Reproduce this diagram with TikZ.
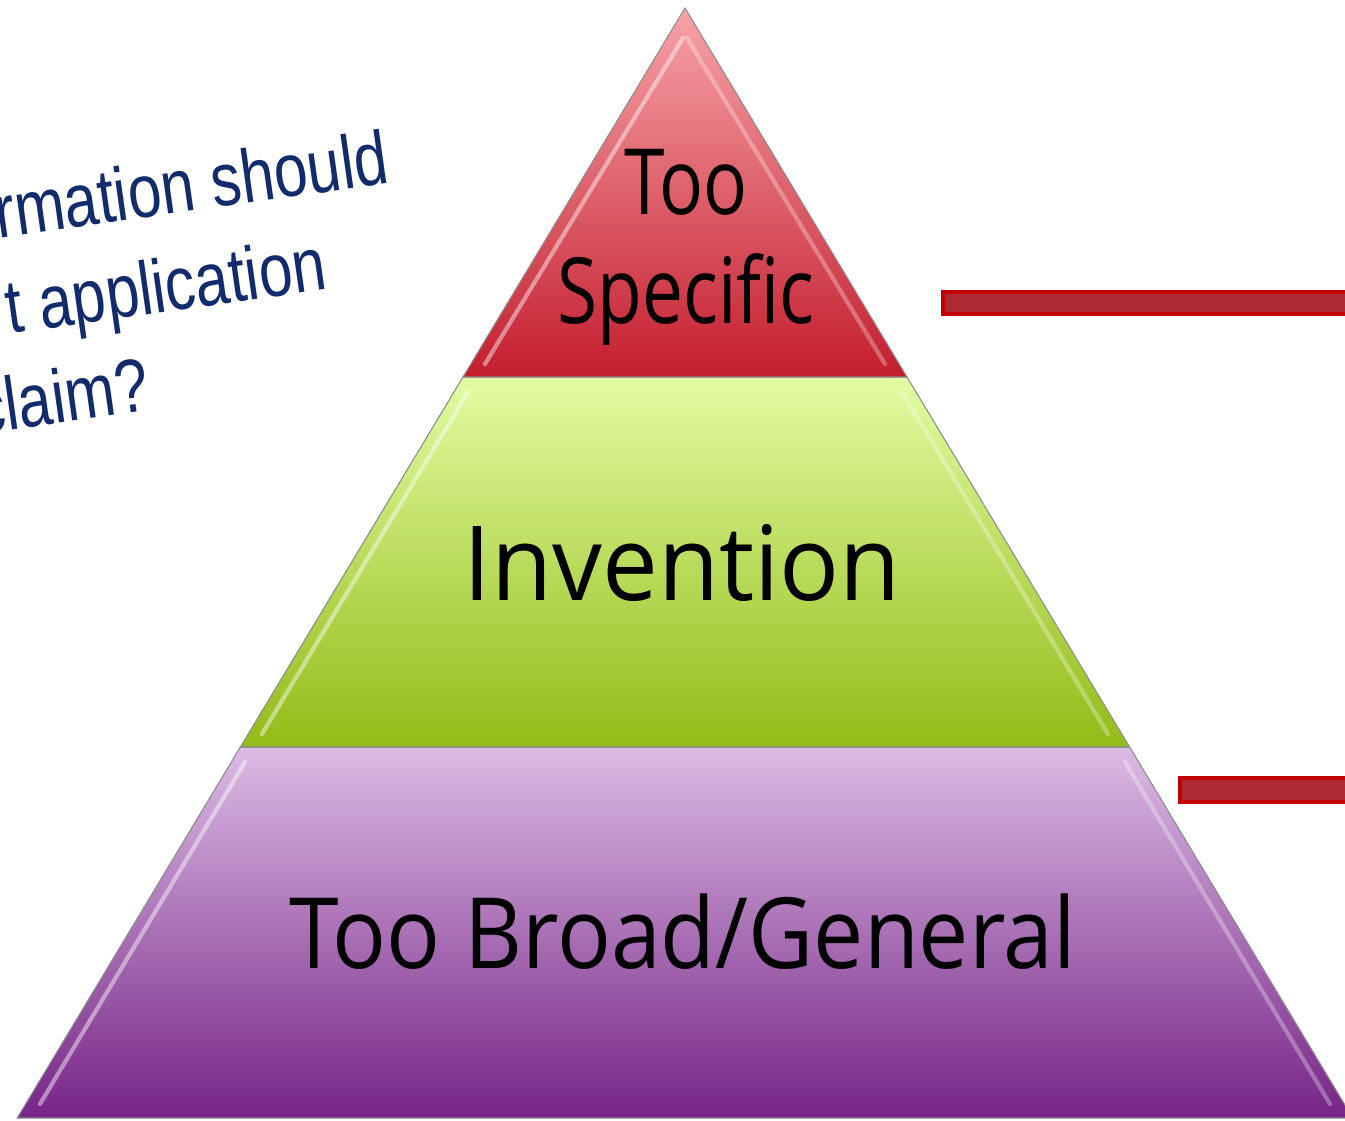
\documentclass[tikz,border=0pt]{standalone}
\usepackage{fontspec}
\setmainfont{Open Sans}
\newfontfamily\notefont{Liberation Sans}
\definecolor{redtop}{HTML}{F7A3A8}
\definecolor{redbot}{HTML}{C41E2E}
\definecolor{greentop}{HTML}{E2FCA2}
\definecolor{greenbot}{HTML}{92BC18}
\definecolor{purpletop}{HTML}{DBBBE4}
\definecolor{purplemid}{HTML}{B88FC6}
\definecolor{purplebot}{HTML}{772587}
\definecolor{barrim}{HTML}{C00000}
\definecolor{barfill}{HTML}{AF2934}
\definecolor{notecol}{HTML}{112B6C}
\tikzset{layer/.style={draw=black!45,line width=0.6pt}}
\tikzset{tier/.style={text=black,inner sep=0pt,align=center}}
\tikzset{shine/.style={draw=white,opacity=0.45,line width=2.4pt,line cap=round}}
\tikzset{bar/.style={draw=barrim,fill=barfill,line width=2.6pt}}
\tikzset{note/.style={font=\notefont\fontsize{43}{46}\selectfont,text=notecol,rotate=8,xscale=0.8,anchor=base east,inner sep=0pt}}

\begin{document}
\begin{tikzpicture}[x=0.02cm,y=-0.02cm]
  \useasboundingbox (0,0) rectangle (1345,1121);
  \fill[white] (0,0) rectangle (1345,1121);
  \node[note] (q1) at (391,183) {rmation should};
  \node[note] (q2) at (329,289) {t application};
  \node[note] (q3) at (152,410) {claim?};
  \shade[layer,top color=purpletop,middle color=purplemid,bottom color=purplebot] (240.4,747) -- (1129.6,747) -- (1352.8,1118) -- (17.2,1118) -- cycle;
  \shade[layer,top color=greentop,bottom color=greenbot] (463,377) -- (907,377) -- (1129.6,747) -- (240.4,747) -- cycle;
  \shade[layer,top color=redtop,bottom color=redbot] (685,8) -- (907,377) -- (463,377) -- cycle;
  \draw[shine] (683,38) -- (485,364);
  \draw[shine,opacity=0.3] (687,38) -- (885,364);
  \draw[shine] (468,392) -- (262,734);
  \draw[shine,opacity=0.3] (902,392) -- (1108,734);
  \draw[shine] (245,762) -- (40,1104);
  \draw[shine,opacity=0.3] (1125,762) -- (1330,1104);
  \node[tier,font=\fontsize{52}{62}\selectfont,xscale=0.8] (spec) at (686,247) {Too\\Specific};
  \node[tier,font=\fontsize{59}{64}\selectfont,xscale=0.96,anchor=base] (inv) at (682,600) {Invention};
  \node[tier,font=\fontsize{56}{62}\selectfont,xscale=0.91,anchor=base] (broad) at (683,968) {Too Broad/General};
  \draw[bar] (943,292) rectangle (1360,314);
  \draw[bar] (1180,778) rectangle (1360,802);
\end{tikzpicture}
\end{document}
